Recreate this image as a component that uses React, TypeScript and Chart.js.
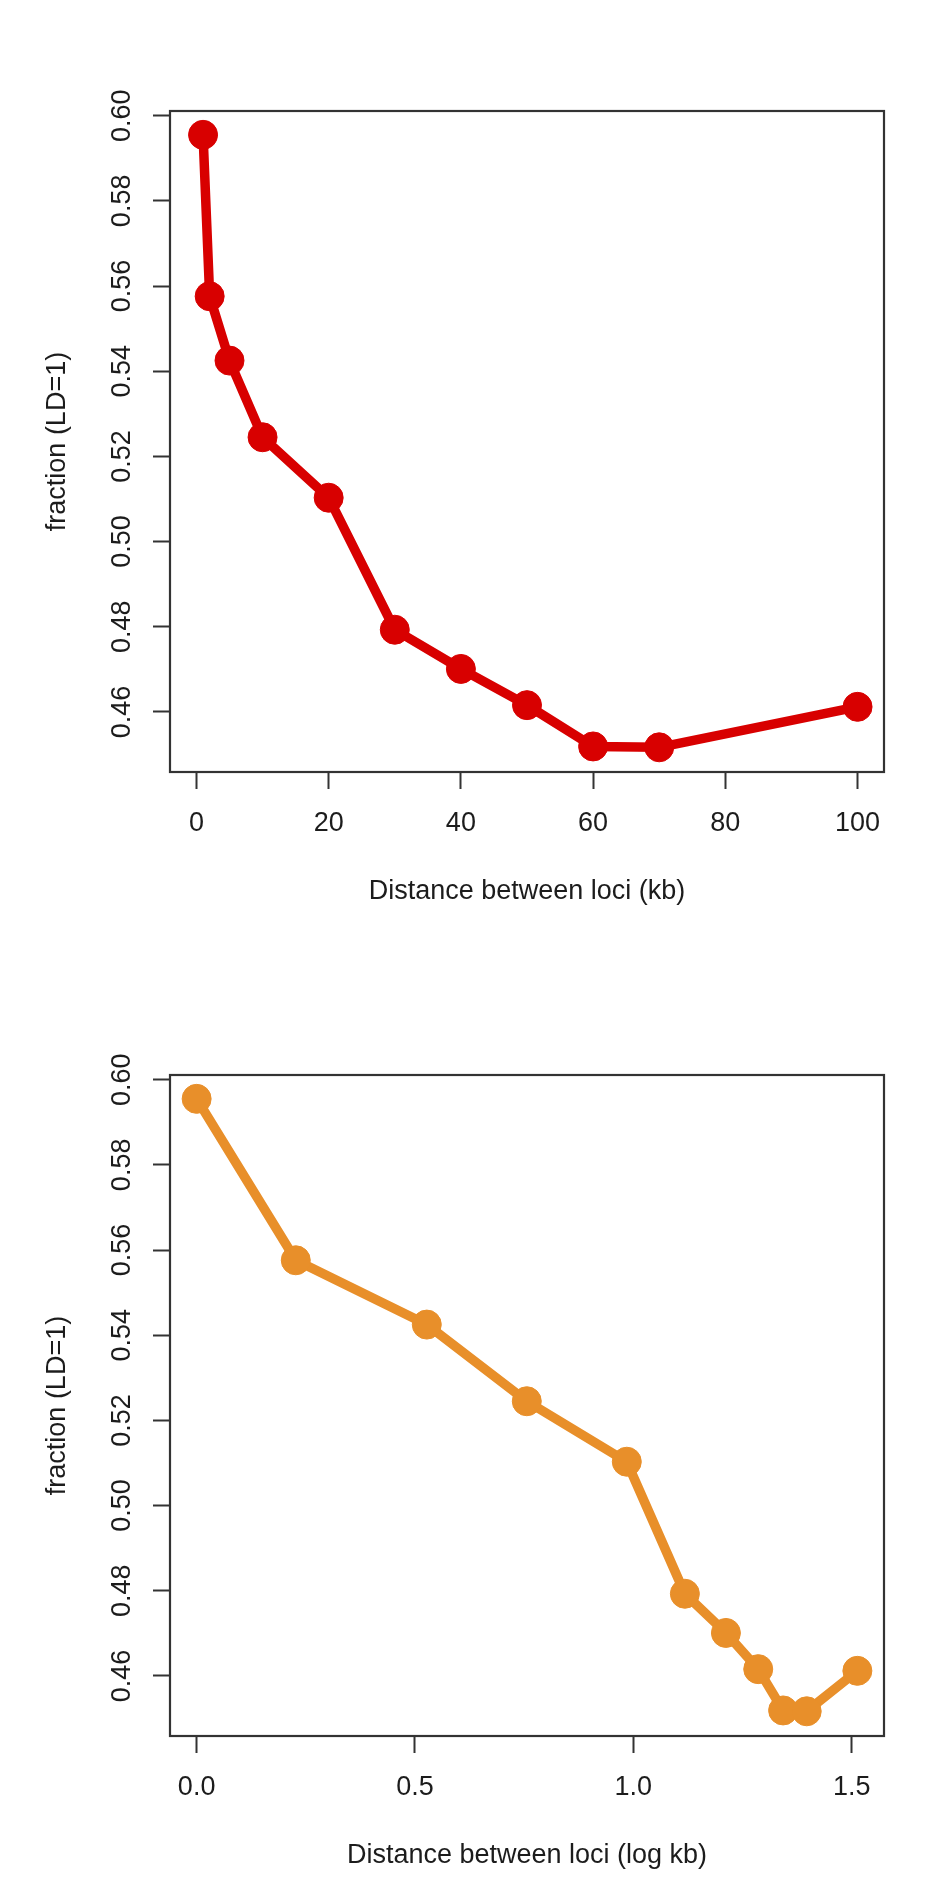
import React, { useEffect, useRef } from "react";
import { Chart, registerables } from "chart.js";

Chart.register(...registerables);

// ---- Data ----
const distanceKb = [1, 2, 5, 10, 20, 30, 40, 50, 60, 70, 100];
const logDistance = [0.0, 0.227, 0.527, 0.756, 0.985, 1.118, 1.212, 1.286, 1.343, 1.397, 1.513];
const fractionLD1 = [0.5955, 0.5576, 0.5425, 0.5245, 0.5103, 0.4793, 0.4701, 0.4616, 0.4519, 0.4517, 0.4612];

const yTickValues = [0.46, 0.48, 0.5, 0.52, 0.54, 0.56, 0.58, 0.6];
const xTicksKb = [0, 20, 40, 60, 80, 100];
const xTicksLog = [0, 0.5, 1.0, 1.5];

const yLabel = "fraction (LD=1)";
const xLabelKb = "Distance between loci (kb)";
const xLabelLog = "Distance between loci (log kb)";

const FONT = "'Liberation Sans', Arial, Helvetica, sans-serif";
const AXIS_COLOR = "#333333";
const TEXT_COLOR = "#1c1c1c";

const boxPlugin = {
  id: "rbox",
  afterDatasetsDraw(chart: any) {
    const { ctx, chartArea } = chart;
    ctx.save();
    ctx.strokeStyle = AXIS_COLOR;
    ctx.lineWidth = 2.2;
    ctx.strokeRect(chartArea.left, chartArea.top, chartArea.right - chartArea.left, chartArea.bottom - chartArea.top);
    ctx.restore();
  },
};

type PanelProps = {
  xs: number[];
  ys: number[];
  xTicks: number[];
  xDecimals: number;
  xMin: number;
  xMax: number;
  xTitle: string;
  color: string;
  padTop: number;
  padBottom: number;
};

function Panel(props: PanelProps) {
  const ref = useRef<HTMLCanvasElement | null>(null);
  useEffect(() => {
    if (!ref.current) return;
    const points = props.xs.map((x, i) => ({ x, y: props.ys[i] }));
    const chart = new Chart(ref.current, {
      type: "line",
      data: {
        datasets: [
          {
            data: points,
            borderColor: props.color,
            backgroundColor: props.color,
            borderWidth: 9.5,
            borderJoinStyle: "round",
            borderCapStyle: "round",
            pointRadius: 14.5,
            pointBorderWidth: 1,
            pointBorderColor: props.color,
            pointBackgroundColor: props.color,
            tension: 0,
            fill: false,
          } as any,
        ],
      },
      options: {
        responsive: false,
        animation: false,
        events: [],
        layout: { padding: { left: 0, right: 52, top: props.padTop, bottom: props.padBottom } },
        plugins: { legend: { display: false }, tooltip: { enabled: false } },
        scales: {
          x: {
            type: "linear",
            min: props.xMin,
            max: props.xMax,
            border: { display: false },
            grid: {
              display: true,
              drawOnChartArea: false,
              drawTicks: true,
              tickLength: 17,
              tickWidth: 2,
              tickColor: AXIS_COLOR,
            },
            afterBuildTicks: (scale: any) => {
              scale.ticks = props.xTicks.map((v) => ({ value: v }));
            },
            afterFit: (scale: any) => {
              scale.height = 136;
            },
            ticks: {
              autoSkip: false,
              maxRotation: 0,
              minRotation: 0,
              padding: 18,
              color: TEXT_COLOR,
              font: { family: FONT, size: 27 },
              callback: (v: any) => Number(v).toFixed(props.xDecimals),
            },
            title: {
              display: true,
              text: props.xTitle,
              color: TEXT_COLOR,
              font: { family: FONT, size: 27 },
              padding: { top: 0, bottom: 0 },
            },
          },
          y: {
            type: "linear",
            min: 0.4459,
            max: 0.6011,
            border: { display: false },
            grid: {
              display: true,
              drawOnChartArea: false,
              drawTicks: true,
              tickLength: 17,
              tickWidth: 2,
              tickColor: AXIS_COLOR,
            },
            afterBuildTicks: (scale: any) => {
              scale.ticks = yTickValues.map((v) => ({ value: v }));
            },
            afterFit: (scale: any) => {
              scale.width = 170;
            },
            ticks: {
              autoSkip: false,
              minRotation: 90,
              maxRotation: 90,
              crossAlign: "center",
              padding: 4,
              color: TEXT_COLOR,
              font: { family: FONT, size: 27 },
              callback: (v: any) => Number(v).toFixed(2),
            },
            title: {
              display: true,
              text: yLabel,
              color: TEXT_COLOR,
              font: { family: FONT, size: 27 },
              padding: { top: 41, bottom: 0 },
            },
          },
        },
      } as any,
      plugins: [boxPlugin],
    });
    return () => chart.destroy();
  }, []);
  return <canvas ref={ref} width={936} height={943} style={{ display: "block", width: 936, height: 943 }} />;
}

export default function App() {
  return (
    <div style={{ position: "absolute", left: 0, top: 0, width: 936, height: 1886, background: "#ffffff" }}>
      <Panel
        xs={distanceKb}
        ys={fractionLD1}
        xTicks={xTicksKb}
        xDecimals={0}
        xMin={-4}
        xMax={104}
        xTitle={xLabelKb}
        color="#D80000"
        padTop={111}
        padBottom={35}
      />
      <Panel
        xs={logDistance}
        ys={fractionLD1}
        xTicks={xTicksLog}
        xDecimals={1}
        xMin={-0.061}
        xMax={1.574}
        xTitle={xLabelLog}
        color="#E88F2A"
        padTop={132}
        padBottom={14}
      />
    </div>
  );
}
